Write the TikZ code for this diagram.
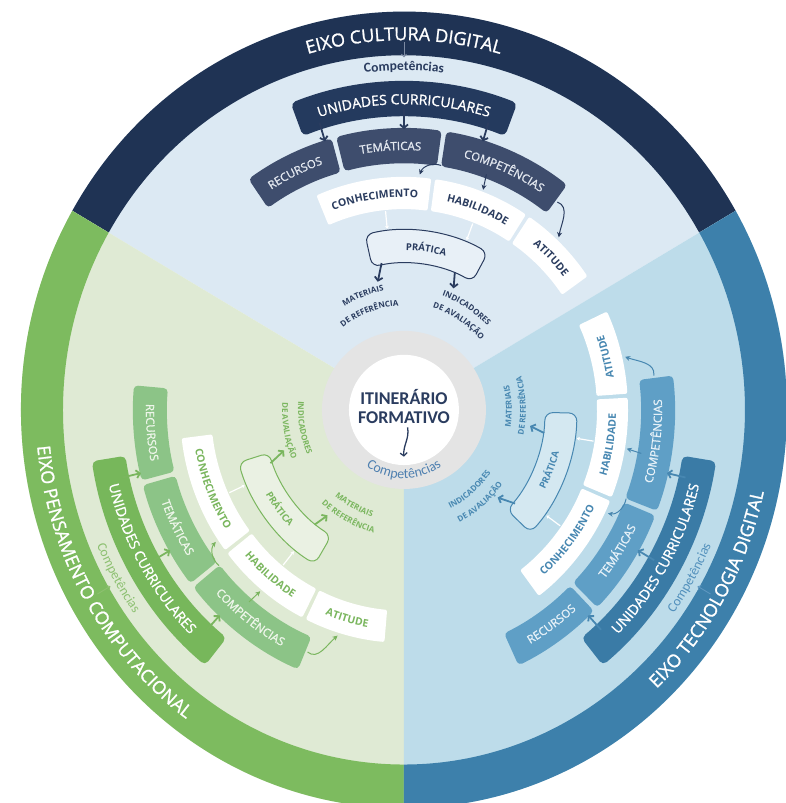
\documentclass[tikz,border=0pt]{standalone}
\usepackage{fontspec}
\setmainfont{Open Sans}
\newfontfamily\semi{Open Sans}[FakeBold=1.2]
\newfontfamily\calibri{Carlito}
\usetikzlibrary{arrows.meta, decorations.text}

% colours of the three axes
\definecolor{cd-bg}{HTML}{DCE9F3}
\definecolor{cd-ring}{HTML}{1F3354}
\definecolor{cd-uc}{HTML}{243A5E}
\definecolor{cd-topic}{HTML}{3E4D6D}
\definecolor{cd-chip}{HTML}{E2E7EF}
\definecolor{cd-ink}{HTML}{2A3C5F}
\definecolor{cd-hint}{HTML}{7D8BA3}
\definecolor{cd-comp}{HTML}{2A3C5F}

\definecolor{pc-bg}{HTML}{DFEAD4}
\definecolor{pc-ring}{HTML}{7DBB5F}
\definecolor{pc-uc}{HTML}{77B75B}
\definecolor{pc-topic}{HTML}{8CC487}
\definecolor{pc-chip}{HTML}{EEF6EA}
\definecolor{pc-ink}{HTML}{7AB65E}
\definecolor{pc-hint}{HTML}{8DC070}
\definecolor{pc-comp}{HTML}{8CC070}

\definecolor{td-bg}{HTML}{BDDCEA}
\definecolor{td-ring}{HTML}{3D80AB}
\definecolor{td-uc}{HTML}{3A7BA6}
\definecolor{td-topic}{HTML}{5F9FC6}
\definecolor{td-chip}{HTML}{E6F1F8}
\definecolor{td-ink}{HTML}{4787B1}
\definecolor{td-hint}{HTML}{5E97C0}
\definecolor{td-comp}{HTML}{5290BC}

\definecolor{hub}{HTML}{E4E4E4}
\definecolor{hubtext}{HTML}{4F80B0}

\newcommand\cdcompfont{\calibri\bfseries\fontsize{13.5}{14}\selectfont}
\newcommand\pccompfont{\calibri\fontsize{13.5}{14}\selectfont}
\newcommand\tdcompfont{\calibri\fontsize{13.5}{14}\selectfont}

% angle of the upper axis carried over to the current axis (mirrored)
\newcommand\ang[1]{\mirA+(\mirS)*(#1)}

% curved box: style, from/to angle, inner/outer radius
\newcommand\ringpiece[5]{%
  \path[#1] ({\ang{#2}}:#4) arc[start angle=\ang{#2}, end angle=\ang{#3}, radius=#4]
    -- ({\ang{#3}}:#5) arc[start angle=\ang{#3}, end angle=\ang{#2}, radius=#5] -- cycle;}

% text along a circle: format, colour, centre angle, radius, cap height, text
\newcommand\arctext[6]{%
  \pgfmathsetmacro\rbase{#4-(\mirS)*(#5)/2}%
  \path[decorate, decoration={text along path, text align=center, text color=#2,
      text={|#1|#6}}]
    ({\ang{#3+50}}:\rbase) arc[start angle=\ang{#3+50}, end angle=\ang{#3-50}, radius=\rbase];}

% one axis: angle offset, mirror sign, colour key, axis name, two reference labels
\newcommand\drawsector[8]{%
  \def\mirA{#1}\def\mirS{#2}%
  \colorlet{bg}{#3-bg}\colorlet{ring}{#3-ring}\colorlet{uc}{#3-uc}%
  \colorlet{topic}{#3-topic}\colorlet{chip}{#3-chip}\colorlet{ink}{#3-ink}%
  \colorlet{hint}{#3-hint}\colorlet{comp}{#3-comp}%
  \expandafter\let\expandafter\compfont\csname #3compfont\endcsname
  % wedge and outer band with the axis name
  \fill[bg] (0,0) -- ({\ang{30}}:383) arc[start angle=\ang{30}, end angle=\ang{150}, radius=383] -- cycle;
  \ringpiece{band}{30}{150}{341}{383}
  \arctext{\semi\fontsize{18}{20}\selectfont}{white}{90}{362}{12.9}{#4}
  \arctext{\compfont}{comp}{90}{330}{7}{Competências}
  \coordinate (#3-axis) at ({\ang{90}}:354);
  \coordinate (#3-comp) at ({\ang{90}}:339);
  \draw[hintarr] (#3-axis) -- (#3-comp);
  % curricular units over resources, themes, competences
  \ringpiece{ucbox}{69}{111}{282}{316}
  \arctext{\semi\fontsize{14}{16}\selectfont}{white}{90}{299}{10}{UNIDADES CURRICULARES}
  \ringpiece{topicbox}{105.5}{125}{237}{271}
  \ringpiece{topicbox}{82}{104.5}{237}{271}
  \ringpiece{topicbox}{53}{81}{237}{271}
  \arctext{\semi\fontsize{11.5}{13}\selectfont}{chip}{115}{254}{8.2}{RECURSOS}
  \arctext{\semi\fontsize{11.5}{13}\selectfont}{chip}{93}{254}{8.2}{TEMÁTICAS}
  \arctext{\semi\fontsize{11.5}{13}\selectfont}{chip}{67}{254}{8.2}{COMPETÊNCIAS}
  \foreach \tpos/\tname in {107/r,90/t,73/c}{
    \coordinate (#3-uc\tname) at ({\ang{\tpos}}:289);
    \coordinate (#3-tp\tname) at ({\ang{\tpos}}:270);
    \draw[arr] (#3-uc\tname) -- (#3-tp\tname);
  }
  % knowledge, skill, attitude
  \ringpiece{skillbox}{83}{113}{193}{224}
  \ringpiece{skillbox}{57}{82}{193}{224}
  \ringpiece{skillbox}{35}{56}{193}{224}
  \arctext{\bfseries\fontsize{10.5}{12}\selectfont}{ink}{98}{208.5}{7.5}{CONHECIMENTO}
  \arctext{\bfseries\fontsize{10.5}{12}\selectfont}{ink}{69.5}{208.5}{7.5}{HABILIDADE}
  \arctext{\bfseries\fontsize{10.5}{12}\selectfont}{ink}{45.5}{208.5}{7.5}{ATITUDE}
  \coordinate (#3-cpA) at ({\ang{81}}:238);
  \coordinate (#3-kn) at ({\ang{86}}:227);
  \coordinate (#3-cpB) at ({\ang{70}}:241);
  \coordinate (#3-sk) at ({\ang{69.5}}:226);
  \coordinate (#3-cpC) at ({\ang{52.5}}:252);
  \coordinate (#3-at) at ({\ang{47}}:227);
  \pgfmathsetmacro\outa{\ang{160}}\pgfmathsetmacro\ina{\ang{70}}
  \draw[bentarr] (#3-cpA) to[out=\outa, in=\ina] (#3-kn);
  \draw[bentarr] (#3-cpB) -- (#3-sk);
  \pgfmathsetmacro\outa{\ang{-20}}\pgfmathsetmacro\ina{\ang{80}}
  \draw[bentarr] (#3-cpC) to[out=\outa, in=\ina] (#3-at);
  % practice and its two outputs
  \ringpiece{practicebox}{61}{103}{141}{173}
  \arctext{\bfseries\fontsize{9.5}{11}\selectfont}{ink}{82}{157}{6.8}{PRÁTICA}
  \foreach \tpos/\tname in {95.5/k,69/s}{
    \coordinate (#3-w\tname) at ({\ang{\tpos}}:192);
    \coordinate (#3-p\tname) at ({\ang{\tpos}}:175);
    \draw[whitearr] (#3-w\tname) -- (#3-p\tname);
  }
  \coordinate (#3-pa) at ({\ang{99}}:143);
  \coordinate (#3-la) at ({\ang{102}}:126);
  \coordinate (#3-pb) at ({\ang{69}}:142);
  \coordinate (#3-lb) at ({\ang{67}}:127);
  \draw[arr] (#3-pa) -- (#3-la);
  \draw[arr] (#3-pb) -- (#3-lb);
  \arctext{\bfseries\fontsize{8}{9}\selectfont}{ink}{110}{111+(\mirS)*8}{5.7}{#5}
  \arctext{\bfseries\fontsize{8}{9}\selectfont}{ink}{110}{111-(\mirS)*8}{5.7}{#6}
  \arctext{\bfseries\fontsize{8}{9}\selectfont}{ink}{58}{112+(\mirS)*7}{5.7}{#7}
  \arctext{\bfseries\fontsize{8}{9}\selectfont}{ink}{58}{112-(\mirS)*7}{5.7}{#8}
}

\begin{document}
\begin{tikzpicture}[x=1pt, y=1.04pt,
  band/.style={fill=ring},
  ucbox/.style={fill=uc, rounded corners=5pt},
  topicbox/.style={fill=topic, rounded corners=4pt},
  skillbox/.style={fill=white, rounded corners=2pt},
  practicebox/.style={draw=ink, line width=1pt, fill=white, fill opacity=0.35, rounded corners=8pt},
  arr/.style={draw=ink, line width=1.8pt, -{Straight Barb[length=3.5pt,width=8pt]}},
  bentarr/.style={draw=ink, line width=1pt, -{Stealth[length=5pt,width=5pt]}},
  whitearr/.style={draw=white, line width=1.2pt, -{Stealth[length=3pt,width=4pt]}},
  hintarr/.style={draw=hint, line width=0.9pt, -{Straight Barb[length=2.5pt,width=5pt]}},
  hubtitle/.style={font=\calibri\bfseries\fontsize{18}{19}\selectfont, text=cd-ink, align=center},
  hubarr/.style={draw=cd-ink, line width=1.3pt, -{Straight Barb[length=3pt,width=7pt]}}
]
\clip (-404,-378) rectangle (382,394.2);
\fill[white] (-404,-378) rectangle (382,394.2);

\drawsector{0}{1}{cd}{EIXO CULTURA DIGITAL}{MATERIAIS}{DE REFERÊNCIA}{INDICADORES}{DE AVALIAÇÃO}
\drawsector{300}{-1}{pc}{EIXO PENSAMENTO COMPUTACIONAL}{INDICADORES}{DE AVALIAÇÃO}{MATERIAIS}{DE REFERÊNCIA}
\drawsector{60}{-1}{td}{EIXO TECNOLOGIA DIGITAL}{INDICADORES}{DE AVALIAÇÃO}{MATERIAIS}{DE REFERÊNCIA}

% hub in the middle
\fill[hub] (0,0) ellipse[x radius=82, y radius=76];
\fill[white] (0,0) ellipse[x radius=55, y radius=53];
\node[hubtitle] (itin) at (0,3) {ITINERÁRIO\\FORMATIVO};
\coordinate (itinend) at (0,-45);
\draw[hubarr] (itin) to[out=-80, in=95] (itinend);
\path[decorate, decoration={text along path, text align=center, text color=hubtext,
    text={|\calibri\fontsize{14}{15}\selectfont|Competências}}]
  (212:66) arc[start angle=212, end angle=328, radius=66];
\end{tikzpicture}
\end{document}
